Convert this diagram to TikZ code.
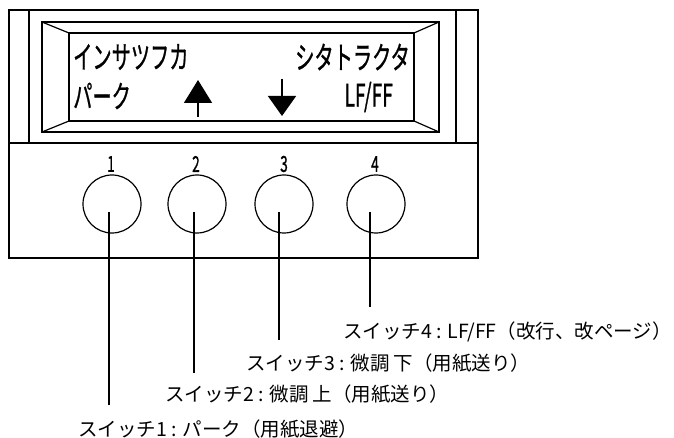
\documentclass[tikz,border=0pt]{standalone}
\usepackage{fontspec}
\usepackage{graphicx}
\usetikzlibrary{
    arrows.meta,
    positioning
}
\newfontfamily\jpfont{Noto Sans CJK JP}
\newfontfamily\lcdfont[FakeBold=1.2]{Noto Sans CJK JP}
\newcommand{\lcdtext}[2][31bp]{\scalebox{0.62}[1]{\fontsize{#1}{#1}\selectfont\lcdfont #2}}
\tikzset{btn/.style={inner sep=0pt, circle, draw=black, line width=1.2bp, minimum size=58bp}}
\tikzset{tag/.style={inner sep=0pt, anchor=west, font=\fontsize{19.5bp}{22bp}\selectfont\jpfont}}
\tikzset{lead/.style={line width=1.8bp}}

\begin{document}
\begin{tikzpicture}[x=1bp, y=-1bp]
    \useasboundingbox (0, 0) rectangle (674, 438);
    % panel
    \draw[line width=1.5bp] (9, 10) rectangle (478, 258);
    \draw[line width=1.5bp] (9, 143) -- (478, 143);
    \draw[line width=1.2bp] (29, 10) -- (29, 143) (456, 10) -- (456, 143);
    % display
    \draw[line width=1.8bp] (42, 22) rectangle (439, 132);
    \draw[line width=1.8bp] (69, 33) rectangle (414, 121);
    \draw[line width=1.2bp]
    (42, 22) -- (69, 33)
    (439, 22) -- (414, 33)
    (42, 132) -- (69, 121)
    (439, 132) -- (414, 121);
    \node[inner sep=0pt, anchor=west] (t1) at (73, 57) {\lcdtext{インサツフカ}};
    \node[inner sep=0pt, anchor=west] (t2) at (73, 96) {\lcdtext{パーク}};
    \node[inner sep=0pt, anchor=east] (t3) at (410, 57) {\lcdtext{シタトラクタ}};
    \node[inner sep=0pt, anchor=east] (t4) at (393, 97) {\lcdtext{LF/FF}};
    \draw[line width=1.6bp, -{Triangle[length=23bp, width=28bp]}] (198, 117) -- (198, 80);
    \draw[line width=1.6bp, -{Triangle[length=20bp, width=28bp]}] (282, 79) -- (282, 116);
    % switches
    \node[btn] (b1) at (112, 204) {};
    \node[btn] (b2) at (197, 204) {};
    \node[btn] (b3) at (284, 204) {};
    \node[btn] (b4) at (376, 204) {};
    \node[inner sep=0pt] (n1) at (111, 164) {\lcdtext[22bp]{1}};
    \node[inner sep=0pt] (n2) at (196, 164) {\lcdtext[22bp]{2}};
    \node[inner sep=0pt] (n3) at (284, 164) {\lcdtext[22bp]{3}};
    \node[inner sep=0pt] (n4) at (375, 164) {\lcdtext[22bp]{4}};
    % leaders
    \coordinate (s1) at (109, 212);
    \coordinate (s2) at (194, 212);
    \coordinate (s3) at (279, 212);
    \coordinate (s4) at (370, 212);
    \coordinate (e1) at (109, 405);
    \coordinate (e2) at (194, 373);
    \coordinate (e3) at (279, 340);
    \coordinate (e4) at (370, 307);
    \draw
    (s1) edge[lead] (e1)
    (s2) edge[lead] (e2)
    (s3) edge[lead] (e3)
    (s4) edge[lead] (e4);
    \node[tag] (l1) at (78, 429) {スイッチ1 : パーク（用紙退避）};
    \node[tag] (l2) at (165, 394) {スイッチ2 : 微調 上（用紙送り）};
    \node[tag] (l3) at (246, 363) {スイッチ3 : 微調 下（用紙送り）};
    \node[tag] (l4) at (343, 332) {スイッチ4 : LF/FF（改行、改ページ）};
\end{tikzpicture}
\end{document}
